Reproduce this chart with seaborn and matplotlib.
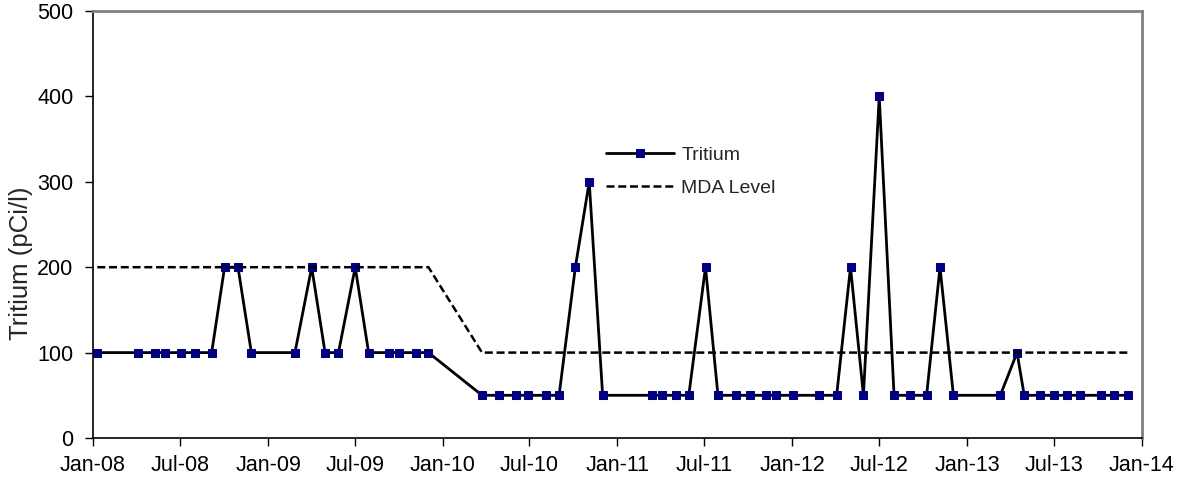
import matplotlib
matplotlib.use("Agg")
import matplotlib.dates as mdates
import matplotlib.pyplot as plt
import pandas as pd
import seaborn as sns

sns.set_theme(style="white")
plt.rcParams["font.family"] = ["Liberation Sans", "DejaVu Sans"]

# sample dates and tritium results (pCi/l)
sample_dates = [
    "2008-01-10", "2008-04-04", "2008-05-09", "2008-05-30", "2008-07-03", "2008-08-01",
    "2008-09-05", "2008-10-02", "2008-10-30", "2008-11-27", "2009-02-26", "2009-04-02",
    "2009-04-30", "2009-05-28", "2009-07-02", "2009-07-30", "2009-09-10", "2009-10-01",
    "2009-11-05", "2009-12-02", "2010-03-24", "2010-04-28", "2010-06-02", "2010-06-29",
    "2010-08-04", "2010-09-01", "2010-10-05", "2010-11-03", "2010-12-01", "2011-03-14",
    "2011-04-05", "2011-05-03", "2011-05-30", "2011-07-04", "2011-07-30", "2011-09-06",
    "2011-10-04", "2011-11-08", "2011-11-29", "2012-01-03", "2012-02-27", "2012-04-03",
    "2012-05-02", "2012-05-29", "2012-07-01", "2012-08-01", "2012-09-04", "2012-10-08",
    "2012-11-05", "2012-12-03", "2013-03-11", "2013-04-15", "2013-04-30", "2013-06-03",
    "2013-07-01", "2013-07-29", "2013-08-25", "2013-10-07", "2013-11-04", "2013-12-02",
]
tritium = [
    100, 100, 100, 100, 100, 100,
    100, 200, 200, 100, 100, 200,
    100, 100, 200, 100, 100, 100,
    100, 100, 50, 50, 50, 50,
    50, 50, 200, 300, 50, 50,
    50, 50, 50, 200, 50, 50,
    50, 50, 50, 50, 50, 50,
    200, 50, 400, 50, 50, 50,
    200, 50, 50, 100, 50, 50,
    50, 50, 50, 50, 50, 50,
]

mda_dates = ["2008-01-10", "2009-12-02", "2010-03-24", "2013-12-02"]
mda_level = [200, 200, 100, 100]

y_ticks = [0, 100, 200, 300, 400, 500]

df = pd.DataFrame({"date": pd.to_datetime(sample_dates), "tritium": tritium})
mda = pd.DataFrame({"date": pd.to_datetime(mda_dates), "mda": mda_level})

fig = plt.figure(figsize=(11.83, 4.79), dpi=100)
ax = fig.add_axes([0.0786, 0.0856, 0.8867, 0.8914])

sns.lineplot(data=df, x="date", y="tritium", ax=ax, color="black", linewidth=2,
             marker="s", markersize=5.5, markerfacecolor="#000080",
             markeredgecolor="#000080", label="Tritium")
sns.lineplot(data=mda, x="date", y="mda", ax=ax, color="black", linewidth=1.8,
             dashes=(3.2, 1.5), label="MDA Level")

ax.set_xlim(pd.Timestamp("2008-01-01"), pd.Timestamp("2014-01-01"))
ax.set_ylim(0, 500)
ax.set_yticks(y_ticks)
ax.xaxis.set_major_locator(mdates.MonthLocator(bymonth=[1, 7]))
ax.xaxis.set_major_formatter(mdates.DateFormatter("%b-%y"))

ax.set_xlabel("")
ax.set_ylabel("Tritium (pCi/l)", fontsize=18.5)
ax.yaxis.set_label_coords(-0.057, 0.41)
ax.tick_params(axis="both", direction="out", length=6, width=1, color="black",
               labelsize=15.5, labelcolor="black")
ax.tick_params(axis="y", pad=8)
ax.tick_params(axis="x", pad=6)
ax.tick_params(bottom=True, left=True)

for side in ["left", "bottom"]:
    ax.spines[side].set_color("black")
    ax.spines[side].set_linewidth(1.2)
for side in ["top", "right"]:
    ax.spines[side].set_color("#808080")
    ax.spines[side].set_linewidth(2)

ax.legend(loc="upper left", bbox_to_anchor=(0.472, 0.725), frameon=False, fontsize=14,
          handlelength=3.5, handletextpad=0.4, labelspacing=0.8)

fig.savefig("out.png", dpi=100)
